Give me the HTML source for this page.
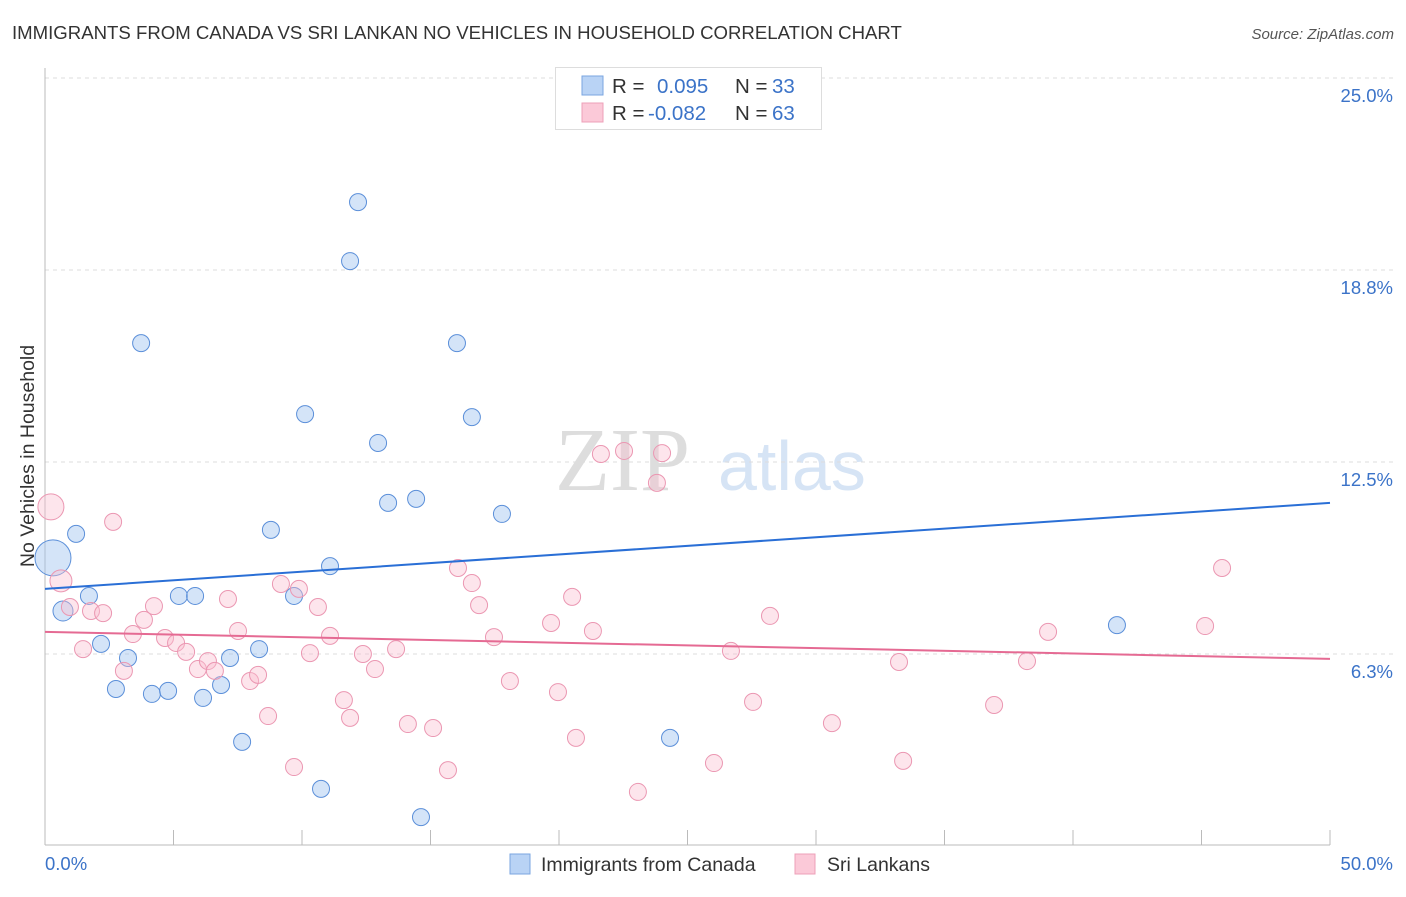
<!DOCTYPE html>
<html><head><meta charset="utf-8"><style>
body{margin:0;background:#fff;font-family:"Liberation Sans",sans-serif}
</style></head><body>
<svg width="1406" height="892" xmlns="http://www.w3.org/2000/svg">
<text x="12" y="39" font-size="18.6" fill="#333">IMMIGRANTS FROM CANADA VS SRI LANKAN NO VEHICLES IN HOUSEHOLD CORRELATION CHART</text>
<text x="1394" y="39" font-size="15" fill="#555" font-style="italic" text-anchor="end">Source: ZipAtlas.com</text>
<g><text x="555" y="490" font-size="90" fill="#ddd" font-family="Liberation Serif">ZIP</text><text x="718" y="490" font-size="70" fill="#d6e4f5">atlas</text></g>
<g id="grid"></g>
<line x1="45" y1="68" x2="45" y2="845" stroke="#bbb"/>
<line x1="45" y1="845" x2="1330" y2="845" stroke="#bbb"/>
<text x="34" y="456" font-size="19.5" fill="#333" text-anchor="middle" transform="rotate(-90 34 456)">No Vehicles in Household</text>
<text x="45" y="870" font-size="18.5" fill="#3b73c8">0.0%</text>
<text x="1393" y="870" font-size="18.5" fill="#3b73c8" text-anchor="end">50.0%</text>
<g id="marks"></g>
<g>
<rect x="555.5" y="67.5" width="266" height="62" fill="#fff" stroke="#ddd"/>
<rect x="582" y="76" width="21" height="19" fill="#b9d3f5" stroke="#7aa6e0"/>
<rect x="582" y="103" width="21" height="19" fill="#fbc9d8" stroke="#eea0b8"/>
<text y="93" font-size="20.5"><tspan x="612" fill="#333">R = </tspan><tspan x="657" fill="#3b73c8">0.095</tspan><tspan x="735" fill="#333">N = </tspan><tspan x="772" fill="#3b73c8">33</tspan></text>
<text y="120" font-size="20.5"><tspan x="612" fill="#333">R = </tspan><tspan x="648" fill="#3b73c8">-0.082</tspan><tspan x="735" fill="#333">N = </tspan><tspan x="772" fill="#3b73c8">63</tspan></text>
</g>
<g>
<rect x="510" y="854" width="20" height="20" fill="#b9d3f5" stroke="#7aa6e0"/>
<text x="541" y="871" font-size="19.5" fill="#333">Immigrants from Canada</text>
<rect x="795" y="854" width="20" height="20" fill="#fbc9d8" stroke="#eea0b8"/>
<text x="827" y="871" font-size="19.5" fill="#333">Sri Lankans</text>
</g>
</svg>
<script>
const yTicks=[6.25,12.5,18.75,25];
const yTickLabels=["6.3%","12.5%","18.8%","25.0%"];
const xTicks=[0,5,10,15,20,25,30,35,40,45,50];
const canadaX=[0.31,0.70,1.21,1.71,2.18,2.76,3.23,3.74,4.16,4.79,5.21,5.84,6.15,6.85,7.20,7.67,8.33,8.79,9.69,10.12,10.74,11.09,11.87,12.18,12.96,13.35,14.44,14.63,16.03,16.61,17.78,24.32,41.71];
const canadaY=[9.38,7.65,10.16,8.14,6.58,5.11,6.12,16.37,4.95,5.05,8.14,8.14,4.82,5.24,6.12,3.39,6.41,10.29,8.14,14.06,1.86,9.11,19.04,20.96,13.12,11.17,11.30,0.94,16.37,13.96,10.81,3.52,7.19];
const canadaSize=[18,10,8.5,8.5,8.5,8.5,8.5,8.5,8.5,8.5,8.5,8.5,8.5,8.5,8.5,8.5,8.5,8.5,8.5,8.5,8.5,8.5,8.5,8.5,8.5,8.5,8.5,8.5,8.5,8.5,8.5,8.5,8.5];
const sriX=[0.23,0.62,0.97,1.48,1.79,2.26,2.65,3.07,3.42,3.85,4.24,4.67,5.10,5.49,5.95,6.34,6.61,7.12,7.51,7.98,8.29,8.68,9.18,9.69,9.88,10.31,10.62,11.09,11.63,11.87,12.37,12.84,13.66,14.12,15.10,15.68,16.07,16.61,16.89,17.47,18.09,19.69,19.96,20.51,20.66,21.32,21.63,22.53,23.07,23.81,24.01,26.03,26.69,27.55,28.21,30.62,33.23,33.39,36.93,38.21,39.03,45.14,45.80];
const sriY=[11.04,8.63,7.78,6.41,7.65,7.58,10.55,5.70,6.90,7.36,7.81,6.77,6.61,6.32,5.76,6.02,5.70,8.04,7.00,5.37,5.57,4.23,8.53,2.57,8.37,6.28,7.78,6.84,4.75,4.17,6.25,5.76,6.41,3.97,3.84,2.47,9.05,8.56,7.84,6.80,5.37,7.26,5.01,8.11,3.52,7.00,12.76,12.86,1.76,11.82,12.79,2.70,6.35,4.69,7.49,4.00,5.99,2.77,4.59,6.02,6.97,7.16,9.05];
const trendX=[0,50];
const canadaTrend=[8.37,11.17];
const sriTrend=[6.97,6.09];
const NS="http://www.w3.org/2000/svg";
const sx=v=>45+v*1285/50;
const sy=v=>846-v*30.72;
const grid=document.getElementById('grid'),marks=document.getElementById('marks');
function mk(tag,attrs,parent){const e=document.createElementNS(NS,tag);for(const k in attrs)e.setAttribute(k,attrs[k]);parent.appendChild(e);return e;}
yTicks.forEach((t,i)=>{
  const l=mk('line',{x1:45,x2:1394,y1:sy(t),y2:sy(t),stroke:'#ddd','stroke-dasharray':'4,4'},grid);
  
  
  const tx=mk('text',{x:1393,y:sy(t)+24,'font-size':18.5,fill:'#3b73c8','text-anchor':'end'},grid);
  tx.textContent=yTickLabels[i];
  
  
});
xTicks.forEach(t=>{
  const l=mk('line',{x1:sx(t),x2:sx(t),y1:830,y2:845,stroke:'#bbb'},grid);
  
  
});
canadaX.forEach((x,i)=>{
  const c=mk('circle',{cx:sx(x),cy:sy(canadaY[i]),r:canadaSize[i],fill:'rgba(160,195,240,0.45)',stroke:'#5b8fd9','stroke-width':1},marks);
  
  
});
sriX.forEach((x,i)=>{
  const c=mk('circle',{cx:sx(x),cy:sy(sriY[i]),r:i===0?13:(i===1?11:8.5),fill:'rgba(250,190,208,0.4)',stroke:'#eb97b2','stroke-width':1},marks);
  
  
});
const l1=mk('line',{x1:sx(trendX[0]),y1:sy(canadaTrend[0]),x2:sx(trendX[1]),y2:sy(canadaTrend[1]),stroke:'#2a6fd6','stroke-width':2},marks);


const l2=mk('line',{x1:sx(trendX[0]),y1:sy(sriTrend[0]),x2:sx(trendX[1]),y2:sy(sriTrend[1]),stroke:'#e56a93','stroke-width':2},marks);


</script>
</body></html>
